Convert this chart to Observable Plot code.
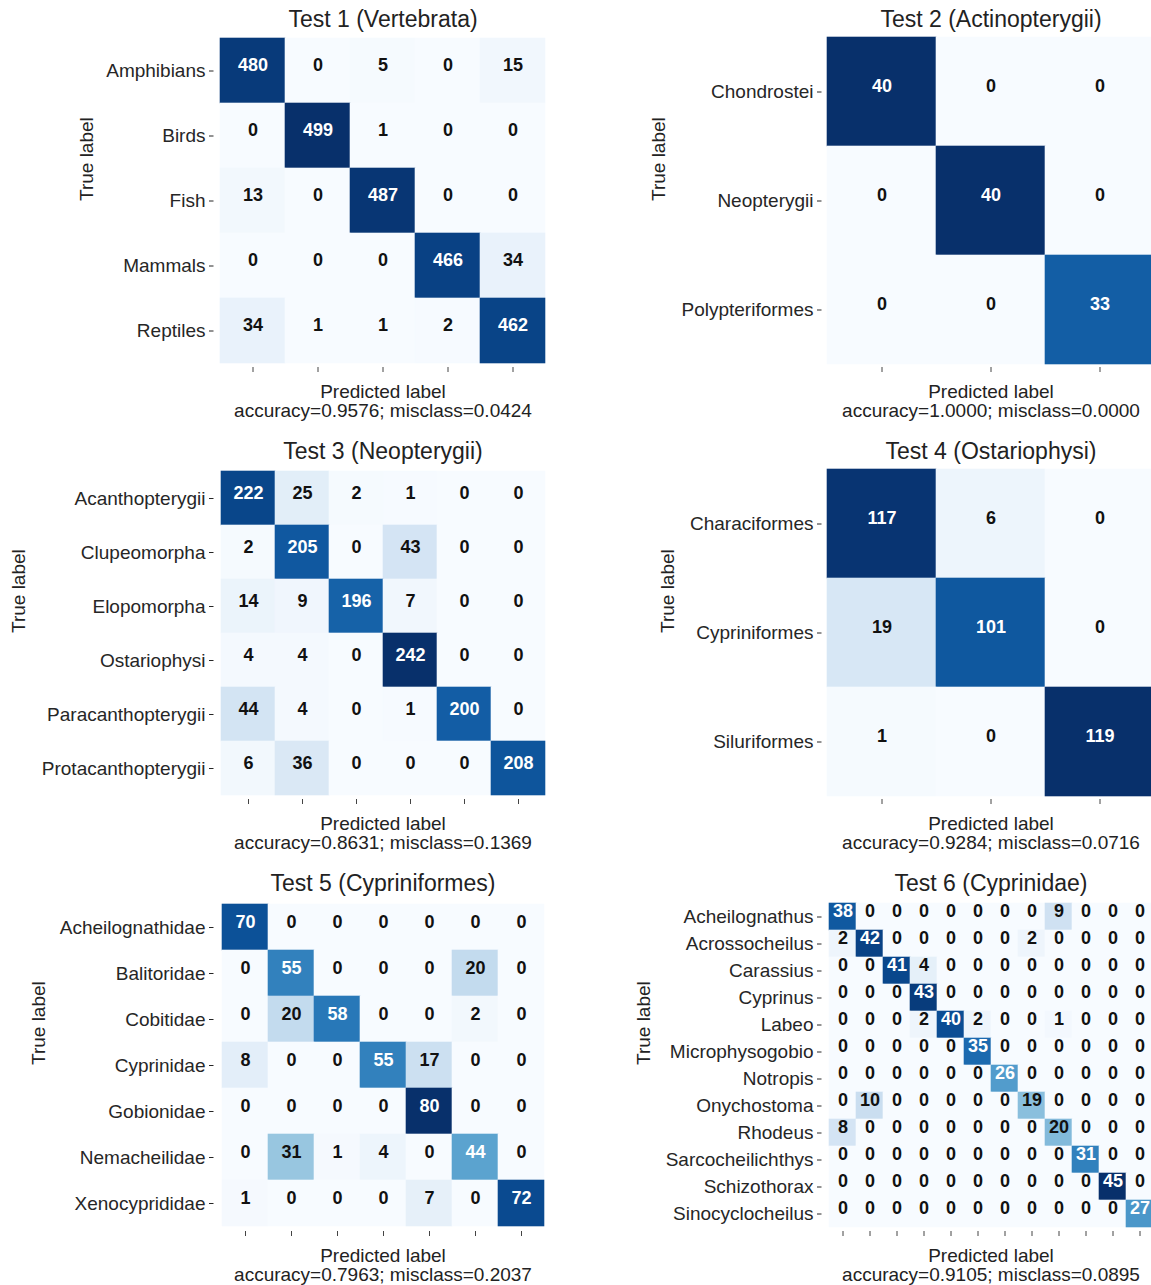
<!DOCTYPE html>
<html>
<head>
<meta charset="utf-8">
<script src="https://cdn.jsdelivr.net/npm/d3@7"></script>
<script src="https://cdn.jsdelivr.net/npm/@observablehq/plot@0.6"></script>
<style>
  html, body { margin: 0; padding: 0; background: #fff; overflow: hidden; }
  #root { position: relative; width: 1151px; height: 1285px; overflow: hidden; background: #fff; }
  #root svg { position: absolute; }
</style>
</head>
<body>
<div id="root"></div>
<script>
// ---------- DATA ----------
const titles = [
  "Test 1 (Vertebrata)", "Test 2 (Actinopterygii)", "Test 3 (Neopterygii)",
  "Test 4 (Ostariophysi)", "Test 5 (Cypriniformes)", "Test 6 (Cyprinidae)"
];
const captions = [
  "accuracy=0.9576; misclass=0.0424", "accuracy=1.0000; misclass=0.0000",
  "accuracy=0.8631; misclass=0.1369", "accuracy=0.9284; misclass=0.0716",
  "accuracy=0.7963; misclass=0.2037", "accuracy=0.9105; misclass=0.0895"
];

const test1Labels = ["Amphibians", "Birds", "Fish", "Mammals", "Reptiles"];
const test1Matrix = [
  [480, 0, 5, 0, 15],
  [0, 499, 1, 0, 0],
  [13, 0, 487, 0, 0],
  [0, 0, 0, 466, 34],
  [34, 1, 1, 2, 462]
];

const test2Labels = ["Chondrostei", "Neopterygii", "Polypteriformes"];
const test2Matrix = [
  [40, 0, 0],
  [0, 40, 0],
  [0, 0, 33]
];

const test3Labels = ["Acanthopterygii", "Clupeomorpha", "Elopomorpha", "Ostariophysi", "Paracanthopterygii", "Protacanthopterygii"];
const test3Matrix = [
  [222, 25, 2, 1, 0, 0],
  [2, 205, 0, 43, 0, 0],
  [14, 9, 196, 7, 0, 0],
  [4, 4, 0, 242, 0, 0],
  [44, 4, 0, 1, 200, 0],
  [6, 36, 0, 0, 0, 208]
];

const test4Labels = ["Characiformes", "Cypriniformes", "Siluriformes"];
const test4Matrix = [
  [117, 6, 0],
  [19, 101, 0],
  [1, 0, 119]
];

const test5Labels = ["Acheilognathidae", "Balitoridae", "Cobitidae", "Cyprinidae", "Gobionidae", "Nemacheilidae", "Xenocyprididae"];
const test5Matrix = [
  [70, 0, 0, 0, 0, 0, 0],
  [0, 55, 0, 0, 0, 20, 0],
  [0, 20, 58, 0, 0, 2, 0],
  [8, 0, 0, 55, 17, 0, 0],
  [0, 0, 0, 0, 80, 0, 0],
  [0, 31, 1, 4, 0, 44, 0],
  [1, 0, 0, 0, 7, 0, 72]
];

const test6Labels = ["Acheilognathus", "Acrossocheilus", "Carassius", "Cyprinus", "Labeo", "Microphysogobio", "Notropis", "Onychostoma", "Rhodeus", "Sarcocheilichthys", "Schizothorax", "Sinocyclocheilus"];
const test6Matrix = [
  [38, 0, 0, 0, 0, 0, 0, 0, 9, 0, 0, 0],
  [2, 42, 0, 0, 0, 0, 0, 2, 0, 0, 0, 0],
  [0, 0, 41, 4, 0, 0, 0, 0, 0, 0, 0, 0],
  [0, 0, 0, 43, 0, 0, 0, 0, 0, 0, 0, 0],
  [0, 0, 0, 2, 40, 2, 0, 0, 1, 0, 0, 0],
  [0, 0, 0, 0, 0, 35, 0, 0, 0, 0, 0, 0],
  [0, 0, 0, 0, 0, 0, 26, 0, 0, 0, 0, 0],
  [0, 10, 0, 0, 0, 0, 0, 19, 0, 0, 0, 0],
  [8, 0, 0, 0, 0, 0, 0, 0, 20, 0, 0, 0],
  [0, 0, 0, 0, 0, 0, 0, 0, 0, 31, 0, 0],
  [0, 0, 0, 0, 0, 0, 0, 0, 0, 0, 45, 0],
  [0, 0, 0, 0, 0, 0, 0, 0, 0, 0, 0, 27]
];

// ---------- LAYOUT ----------
const S = 327;          // heatmap side
const ML = 200, MT = 40, MB = 65;
const layout = [
  {x0: 219, y0: 37,  trueX: 86},
  {x0: 826.5, y0: 37,  trueX: 658},
  {x0: 219, y0: 468.5, trueX: 18},
  {x0: 826.5, y0: 468.5, trueX: 667},
  {x0: 219, y0: 901, trueX: 38},
  {x0: 826.5, y0: 901, trueX: 643}
];
const allLabels = [test1Labels, test2Labels, test3Labels, test4Labels, test5Labels, test6Labels];
const allMatrices = [test1Matrix, test2Matrix, test3Matrix, test4Matrix, test5Matrix, test6Matrix];

const FONT = "'Liberation Sans', Arial, Helvetica, sans-serif";
const root = document.getElementById("root");

allMatrices.forEach((matrix, k) => {
  const labels = allLabels[k];
  const n = labels.length;
  const L = layout[k];
  const cells = [];
  matrix.forEach((row, i) => row.forEach((v, j) => cells.push({r: labels[i], c: j, v})));
  const max = d3.max(cells, d => d.v);
  const thresh = max / 2;

  const svg = Plot.plot({
    width: ML + S,
    height: MT + S + MB,
    marginLeft: ML, marginRight: 0, marginTop: MT, marginBottom: MB,
    style: {fontFamily: FONT, fontSize: "19px", color: "#262626", background: "transparent", overflow: "visible", maxWidth: "none"},
    x: {type: "band", domain: d3.range(n), padding: 0},
    y: {type: "band", domain: labels, padding: 0},
    color: {type: "linear", scheme: "blues", domain: [0, max]},
    marks: [
      Plot.cell(cells, {x: "c", y: "r", fill: "v", stroke: "v", strokeWidth: 0.6}),
      Plot.text(cells.filter(d => d.v > thresh), {x: "c", y: "r", text: d => String(d.v), fill: "white", fontWeight: "bold", fontSize: 18, dy: -5.5}),
      Plot.text(cells.filter(d => d.v <= thresh), {x: "c", y: "r", text: d => String(d.v), fill: "#111", fontWeight: "bold", fontSize: 18, dy: -5.5}),
      Plot.axisY({tickSize: 4.5, tickPadding: 4, dx: -5.5, label: null, fontSize: 19, color: "#262626"}),
      Plot.axisX({tickSize: 5, dy: 3, tickFormat: () => "", label: null, color: "#444"}),
      Plot.text([titles[k]], {frameAnchor: "top", lineAnchor: "bottom", dy: -10.7, fontSize: 23, fill: "#222"}),
      Plot.text(["Predicted label"], {frameAnchor: "bottom", lineAnchor: "bottom", dy: 33, fontSize: 19, fill: "#222"}),
      Plot.text([captions[k]], {frameAnchor: "bottom", lineAnchor: "bottom", dy: 52.5, fontSize: 19, fill: "#222"}),
      Plot.text(["True label"], {frameAnchor: "left", rotate: -90, dx: L.trueX - L.x0, fontSize: 19, fill: "#222"})
    ]
  });
  svg.style.left = (L.x0 - ML) + "px";
  svg.style.top = (L.y0 - MT) + "px";
  root.appendChild(svg);
});
</script>
</body>
</html>
